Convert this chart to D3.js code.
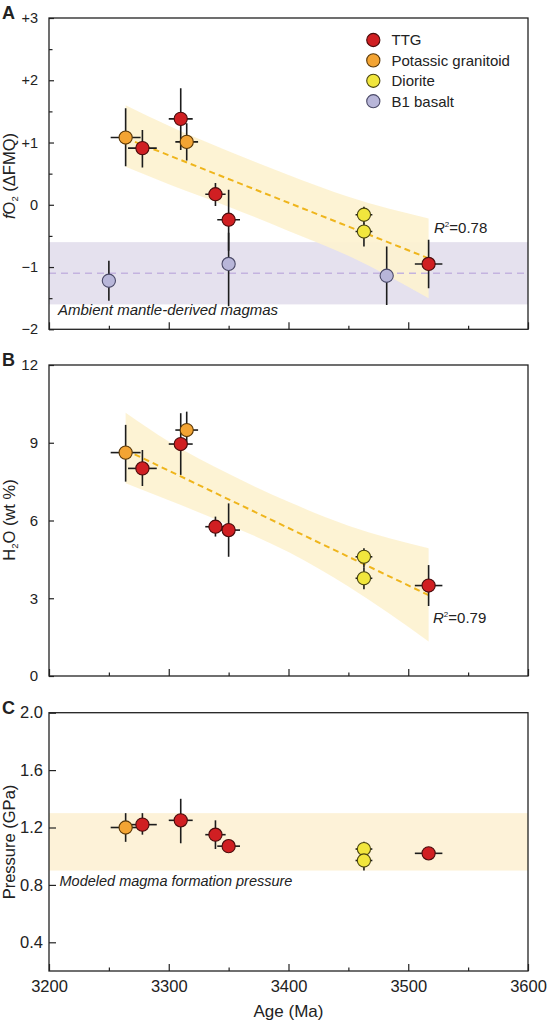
<!DOCTYPE html>
<html>
<head>
<meta charset="utf-8">
<script src="https://cdn.jsdelivr.net/npm/d3@7"></script>
<style>
  body { margin: 0; background: #fff; }
  text { font-family: "Liberation Sans", Arial, sans-serif; fill: #222; }
</style>
</head>
<body>
<div id="chart"></div>
<script>
// rock types and colours
const types = ["TTG", "Potassic granitoid", "Diorite", "B1 basalt"];
const typeFill = ["#d01f22", "#f3a433", "#f1e63d", "#b8b6d9"];
const typeStroke = ["#4a0c0c", "#5a3808", "#4a4510", "#4b4a68"];

// granitoid samples (same order in every panel)
const sampleType = ["Potassic granitoid", "TTG", "TTG", "Potassic granitoid", "TTG", "TTG", "Diorite", "Diorite", "TTG"];
const sampleAge = [3264, 3278, 3310, 3315, 3339, 3350, 3463, 3463, 3517];
const sampleAgeErr = [12.5, 12, 10, 9.5, 8.5, 9.5, 7, 7, 11.5];

const fo2 = [1.08, 0.91, 1.38, 1.01, 0.17, -0.24, -0.16, -0.43, -0.95];
const fo2Lo = [0.62, 0.60, 0.88, 0.71, -0.02, -0.74, -0.31, -0.67, -1.34];
const fo2Hi = [1.55, 1.20, 1.87, 1.31, 0.35, 0.24, -0.03, -0.30, -0.56];

const h2o = [8.62, 8.01, 8.95, 9.49, 5.76, 5.63, 4.60, 3.77, 3.49];
const h2oLo = [7.50, 7.33, 7.76, 8.90, 5.38, 4.60, 4.20, 3.35, 2.70];
const h2oHi = [9.69, 8.72, 10.14, 10.20, 6.15, 6.66, 4.93, 4.20, 4.28];

const pressure = [1.20, 1.22, 1.25, null, 1.15, 1.07, 1.05, 0.97, 1.02];
const pressureLo = [1.10, 1.15, 1.09, null, 1.05, 1.06, 1.01, 0.90, 1.01];
const pressureHi = [1.30, 1.30, 1.40, null, 1.25, 1.085, 1.10, 1.00, 1.03];

// B1 basalts (panel A only)
const basaltAge = [3250, 3350, 3482];
const basaltFo2 = [-1.22, -0.95, -1.14];
const basaltLo = [-1.54, -1.63, -1.61];
const basaltHi = [-0.90, -0.45, -0.67];

// regression fits and confidence bands
const fitAge = [3264, 3517];
const fo2Fit = [1.07, -0.86];
const h2oFit = [8.72, 3.12];
const bandAge = [3264, 3300, 3350, 3400, 3450, 3517];
const fo2BandHi = [1.60, 1.27, 0.86, 0.48, 0.13, -0.22];
const fo2BandLo = [0.61, 0.33, -0.03, -0.42, -0.82, -1.50];
const h2oBandHi = [10.16, 9.05, 7.80, 6.72, 5.80, 4.93];
const h2oBandLo = [7.44, 6.78, 5.84, 4.78, 3.45, 1.33];

const mantleRange = [-1.6, -0.6];
const mantleMean = -1.1;
const pressureRange = [0.9, 1.3];

const xTicks = [3200, 3300, 3400, 3500, 3600];
const xMinorTicks = [3250, 3350, 3450, 3550];
const fo2Ticks = [-2, -1, 0, 1, 2, 3];
const fo2MinorTicks = [-1.5, -0.5, 0.5, 1.5, 2.5];
const h2oTicks = [0, 3, 6, 9, 12];
const pressureTicks = [0.4, 0.8, 1.2, 1.6, 2.0];

const width = 553, height = 1024;
const left = 49, right = 528;

const svg = d3.select("#chart").append("svg")
    .attr("width", width)
    .attr("height", height);

const x = d3.scaleLinear().domain([3200, 3600]).range([left, right]);

function typeIndex(t) { return types.indexOf(t); }

function makePanel(opts) {
    const y = d3.scaleLinear().domain(opts.domain).range([opts.bottom, opts.top]);
    const g = svg.append("g");
    const clip = "clip" + opts.letter;
    svg.append("clipPath").attr("id", clip).append("rect")
        .attr("x", left).attr("y", opts.top)
        .attr("width", right - left).attr("height", opts.bottom - opts.top);
    const plot = g.append("g").attr("clip-path", "url(#" + clip + ")");

    // x axis, inward ticks
    g.append("g")
        .attr("transform", "translate(0," + opts.bottom + ")")
        .call(d3.axisBottom(x).tickValues(xMinorTicks).tickSize(-3.5).tickFormat(""))
        .call(a => a.select(".domain").remove());
    const xa = g.append("g")
        .attr("transform", "translate(0," + opts.bottom + ")")
        .call(d3.axisBottom(x).tickValues(xTicks).tickSize(-7).tickPadding(9)
            .tickFormat(opts.xLabels ? d3.format("d") : ""));
    xa.select(".domain").remove();
    xa.selectAll("text").style("font-size", "16.5px").style("fill", "#222");

    // y axis, inward ticks
    if (opts.minor) {
        g.append("g")
            .attr("transform", "translate(" + left + ",0)")
            .call(d3.axisLeft(y).tickValues(opts.minor).tickSize(-3.5).tickFormat(""))
            .call(a => a.select(".domain").remove());
    }
    const ya = g.append("g")
        .attr("transform", "translate(" + left + ",0)")
        .call(d3.axisLeft(y).tickValues(opts.ticks).tickSize(-opts.tickLen)
            .tickPadding(opts.pad).tickFormat(opts.format));
    ya.select(".domain").remove();
    ya.selectAll("text").style("font-size", opts.fontSize + "px").style("fill", "#222");
    g.selectAll(".tick line").attr("stroke", "#222").attr("stroke-width", 1.2);

    g.append("text")
        .attr("x", 2).attr("y", opts.top + 1)
        .style("font-size", "18px").style("font-weight", "bold")
        .text(opts.letter);

    return { g: g, plot: plot, y: y };
}

function drawFrame(p, opts) {
    p.g.append("rect")
        .attr("x", left).attr("y", opts.top)
        .attr("width", right - left).attr("height", opts.bottom - opts.top)
        .attr("fill", "none").attr("stroke", "#222").attr("stroke-width", 1.3);
}

function drawBand(p, hi, lo) {
    const area = d3.area()
        .curve(d3.curveMonotoneX)
        .x((d, i) => x(bandAge[i]))
        .y0((d, i) => p.y(lo[i]))
        .y1((d, i) => p.y(hi[i]));
    p.plot.append("path")
        .datum(bandAge)
        .attr("d", area)
        .attr("fill", "#fdf2d0")
        .attr("fill-opacity", 0.92);
}

function drawFit(p, vals) {
    const line = d3.line().x((d, i) => x(fitAge[i])).y((d, i) => p.y(vals[i]));
    p.plot.append("path")
        .datum(fitAge)
        .attr("d", line)
        .attr("fill", "none")
        .attr("stroke", "#efb51c")
        .attr("stroke-width", 2)
        .attr("stroke-dasharray", "6,4");
}

function drawPoints(p, ages, ageErr, vals, lo, hi, kinds) {
    const pts = ages.map((a, i) => ({
        age: a, err: ageErr ? ageErr[i] : 0, v: vals[i], lo: lo[i], hi: hi[i], k: typeIndex(kinds[i])
    })).filter(d => d.v !== null);

    const eg = p.plot.append("g").attr("stroke", "#1c1c1c").attr("stroke-width", 1.6);
    eg.selectAll(".ev").data(pts).enter().append("line")
        .attr("x1", d => x(d.age)).attr("x2", d => x(d.age))
        .attr("y1", d => p.y(d.lo)).attr("y2", d => p.y(d.hi));
    eg.selectAll(".eh").data(pts.filter(d => d.err > 0)).enter().append("line")
        .attr("x1", d => x(d.age - d.err)).attr("x2", d => x(d.age + d.err))
        .attr("y1", d => p.y(d.v)).attr("y2", d => p.y(d.v));

    p.plot.append("g").selectAll("circle").data(pts).enter().append("circle")
        .attr("cx", d => x(d.age))
        .attr("cy", d => p.y(d.v))
        .attr("r", 6.6)
        .attr("fill", d => typeFill[d.k])
        .attr("stroke", d => typeStroke[d.k])
        .attr("stroke-width", 1.1);
}

function r2Label(p, xpos, ypos, val) {
    const t = p.g.append("text").attr("x", xpos).attr("y", ypos).style("font-size", "15px");
    t.append("tspan").style("font-style", "italic").text("R");
    t.append("tspan").attr("dy", -6).style("font-size", "8px").text("2");
    t.append("tspan").attr("dy", 6).text("=" + val);
}

const signed = d => d > 0 ? "+" + d : (d < 0 ? "\u2212" + Math.abs(d) : "0");

// ---------- panel A ----------
const optA = { letter: "A", top: 18, bottom: 329.3, domain: [-2, 3], ticks: fo2Ticks, minor: fo2MinorTicks,
    tickLen: 5, pad: 11, fontSize: 14.5, format: signed, xLabels: false };
const pA = makePanel(optA);
pA.plot.append("rect")
    .attr("x", left).attr("width", right - left)
    .attr("y", pA.y(mantleRange[1])).attr("height", pA.y(mantleRange[0]) - pA.y(mantleRange[1]))
    .attr("fill", "#e5e1ee");
drawBand(pA, fo2BandHi, fo2BandLo);
pA.plot.append("line")
    .attr("x1", left).attr("x2", right)
    .attr("y1", pA.y(mantleMean)).attr("y2", pA.y(mantleMean))
    .attr("stroke", "#c4b3df").attr("stroke-width", 1.3).attr("stroke-dasharray", "7,5");
drawFit(pA, fo2Fit);
drawPoints(pA, basaltAge, null, basaltFo2, basaltLo, basaltHi, basaltAge.map(() => "B1 basalt"));
drawPoints(pA, sampleAge, sampleAgeErr, fo2, fo2Lo, fo2Hi, sampleType);
drawFrame(pA, optA);
pA.g.append("text").attr("x", 58).attr("y", 315)
    .style("font-size", "15px").style("font-style", "italic")
    .text("Ambient mantle-derived magmas");
r2Label(pA, 434, 233, "0.78");
const tA = pA.g.append("text")
    .attr("transform", "translate(15," + 176 + ") rotate(-90)")
    .attr("text-anchor", "middle").style("font-size", "16.5px");
tA.append("tspan").style("font-style", "italic").text("f");
tA.append("tspan").text("O");
tA.append("tspan").attr("dy", 3).style("font-size", "9.5px").text("2");
tA.append("tspan").attr("dy", -3).text(" (\u0394FMQ)");

// legend
const legend = pA.g.append("g");
types.forEach((t, i) => {
    const ly = 40 + i * 20.4;
    legend.append("circle").attr("cx", 373.3).attr("cy", ly).attr("r", 6.6)
        .attr("fill", typeFill[i]).attr("stroke", typeStroke[i]).attr("stroke-width", 1.1);
    legend.append("text").attr("x", 391.5).attr("y", ly).attr("dy", "0.36em")
        .style("font-size", "15px").text(t);
});

// ---------- panel B ----------
const optB = { letter: "B", top: 365, bottom: 676, domain: [0, 12], ticks: h2oTicks, minor: null,
    tickLen: 5, pad: 11, fontSize: 15, format: d3.format("d"), xLabels: false };
const pB = makePanel(optB);
drawBand(pB, h2oBandHi, h2oBandLo);
drawFit(pB, h2oFit);
drawPoints(pB, sampleAge, sampleAgeErr, h2o, h2oLo, h2oHi, sampleType);
drawFrame(pB, optB);
r2Label(pB, 433, 623, "0.79");
const tB = pB.g.append("text")
    .attr("transform", "translate(15," + 520 + ") rotate(-90)")
    .attr("text-anchor", "middle").style("font-size", "16.5px");
tB.append("tspan").text("H");
tB.append("tspan").attr("dy", 3).style("font-size", "9.5px").text("2");
tB.append("tspan").attr("dy", -3).text("O (wt %)");

// ---------- panel C ----------
const optC = { letter: "C", top: 712.7, bottom: 971, domain: [0.2, 2.0], ticks: pressureTicks, minor: null,
    tickLen: 7, pad: 6, fontSize: 16.5, format: d3.format(".1f"), xLabels: true };
const pC = makePanel(optC);
pC.plot.append("rect")
    .attr("x", left).attr("width", right - left)
    .attr("y", pC.y(pressureRange[1])).attr("height", pC.y(pressureRange[0]) - pC.y(pressureRange[1]))
    .attr("fill", "#fdf2d8");
drawPoints(pC, sampleAge, sampleAgeErr, pressure, pressureLo, pressureHi, sampleType);
drawFrame(pC, optC);
pC.g.append("text").attr("x", 59.5).attr("y", 886)
    .style("font-size", "14.5px").style("font-style", "italic")
    .text("Modeled magma formation pressure");
pC.g.append("text")
    .attr("transform", "translate(15," + 842 + ") rotate(-90)")
    .attr("text-anchor", "middle").style("font-size", "16.5px")
    .text("Pressure (GPa)");

svg.append("text")
    .attr("x", (left + right) / 2).attr("y", 1016.5)
    .attr("text-anchor", "middle").style("font-size", "17px")
    .text("Age (Ma)");
</script>
</body>
</html>
